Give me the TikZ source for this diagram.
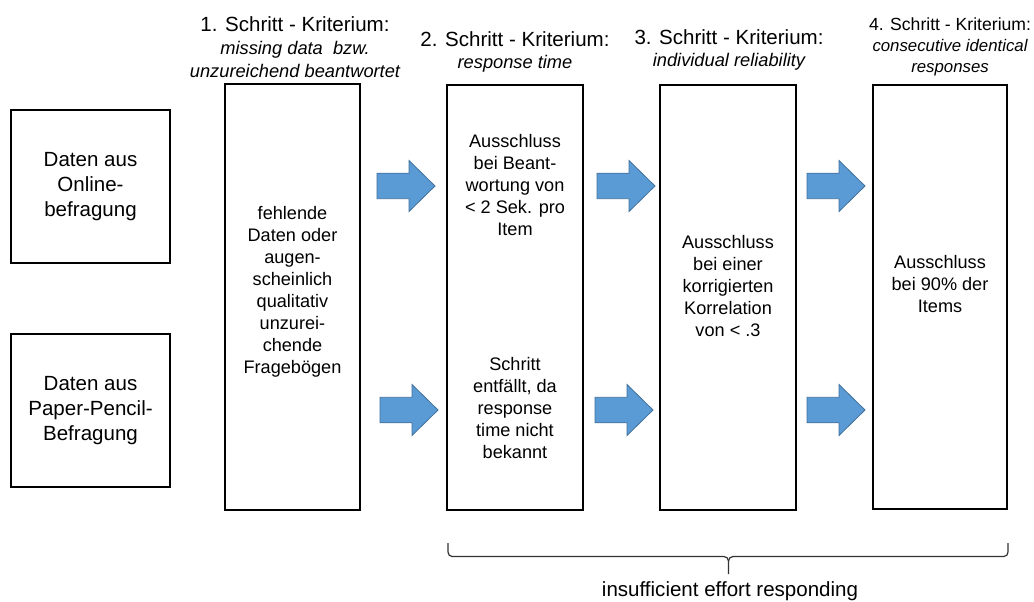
\documentclass[tikz,border=0pt]{standalone}
\usepackage{fontspec}
\setmainfont{Liberation Sans}
\newcommand\fbig{\fontsize{15.4pt}{18.75pt}\selectfont}
\newcommand\fsmall{\fontsize{13.6pt}{16.5pt}\selectfont}
\newcommand\fnarrowhead{\fontsize{13.2pt}{15.75pt}\selectfont}
\definecolor{arrowfill}{HTML}{5B9BD5}
\definecolor{arrowline}{HTML}{41719C}

\begin{document}
\begin{tikzpicture}[x=0.75pt,y=-0.75pt,
  box/.style={draw=black, line width=1.6pt, fill=white, inner sep=0pt},
  boxtext/.style={font=\fsmall, align=center, inner sep=0pt},
  srctext/.style={font=\fbig, align=center},
  headtext/.style={font=\fontsize{13.7pt}{17pt}\selectfont, align=center, inner sep=0pt},
  blockarrow/.pic={\path[fill=arrowfill, draw=arrowline, line width=0.6pt]
      (0,-12.75) -- (32,-12.75) -- (32,-25.5) -- (58,0) -- (32,25.5)
      -- (32,12.75) -- (0,12.75) -- cycle;},
  bracestyle/.style={draw=black!80, line width=0.9pt}
]
% canvas
\path[fill=white, use as bounding box] (0,0) rectangle (1034,602);

% data sources
\node[box, srctext, minimum width=119.25pt, minimum height=114.75pt] (online) at (90.5,186.5)
  {Daten aus\\Online-\\befragung};
\node[box, srctext, minimum width=119.25pt, minimum height=114.75pt] (paper) at (90.5,410.5)
  {Daten aus\\Paper-Pencil-\\Befragung};

% step boxes
\node[box, minimum width=101.25pt, minimum height=319.5pt] (s1) at (292.5,297) {};
\node[box, minimum width=102pt, minimum height=318.75pt] (s2) at (515,297.5) {};
\node[box, minimum width=102pt, minimum height=318.75pt] (s3) at (728,297.5) {};
\node[box, minimum width=100.5pt, minimum height=318pt] (s4) at (940,297) {};

% step texts
\node[boxtext] (t1) at (292.5,292)
  {fehlende\\Daten oder\\augen-\\scheinlich\\qualitativ\\unzurei-\\chende\\Fragebögen};
\node[boxtext] (t2a) at (515,185)
  {Ausschluss\\bei Beant-\\wortung von\\< 2 Sek. pro\\Item};
\node[boxtext] (t2b) at (515,408)
  {Schritt\\entfällt, da\\response\\time nicht\\bekannt};
\node[boxtext] (t3) at (728,286)
  {Ausschluss\\bei einer\\korrigierten\\Korrelation\\von < .3};
\node[boxtext] (t4) at (940,284)
  {Ausschluss\\bei 90\% der\\Items};

% headings
\node[headtext] (h1) at (295,47)
  {{\fbig 1. Schritt - Kriterium:}\\{\itshape missing data\ \ bzw.}\\{\itshape unzureichend beantwortet}};
\node[headtext] (h2) at (515,52)
  {{\fbig 2. Schritt - Kriterium:}\\{\itshape response time}};
\node[headtext] (h3) at (729,50)
  {{\fbig 3. Schritt - Kriterium:}\\{\itshape individual reliability}};
\node[headtext, font=\fontsize{12.6pt}{15.75pt}\selectfont] (h4) at (950,47)
  {{\fnarrowhead 4. Schritt - Kriterium:}\\{\itshape consecutive identical}\\{\itshape responses}};

% block arrows between the steps
\pic (a1u) at (377,186) {blockarrow};
\pic (a1l) at (380,410) {blockarrow};
\pic (a2u) at (597,186) {blockarrow};
\pic (a2l) at (595,410) {blockarrow};
\pic (a3u) at (807,186) {blockarrow};
\pic (a3l) at (807,410) {blockarrow};

% brace under steps 2 to 4
\coordinate (btip) at (728.5,574);
\draw[bracestyle] (448,543) -- (448,552) to[out=-90,in=180] (452,556.5) -- (724,556.5)
  to[out=0,in=90] (728.5,561) -- (btip);
\draw[bracestyle] (1008,543) -- (1008,552) to[out=-90,in=0] (1004,556.5) -- (733,556.5)
  to[out=180,in=90] (728.5,561);
\node[font=\fbig, inner sep=0pt] (ier) at (730,591) {insufficient effort responding};
\end{tikzpicture}
\end{document}
